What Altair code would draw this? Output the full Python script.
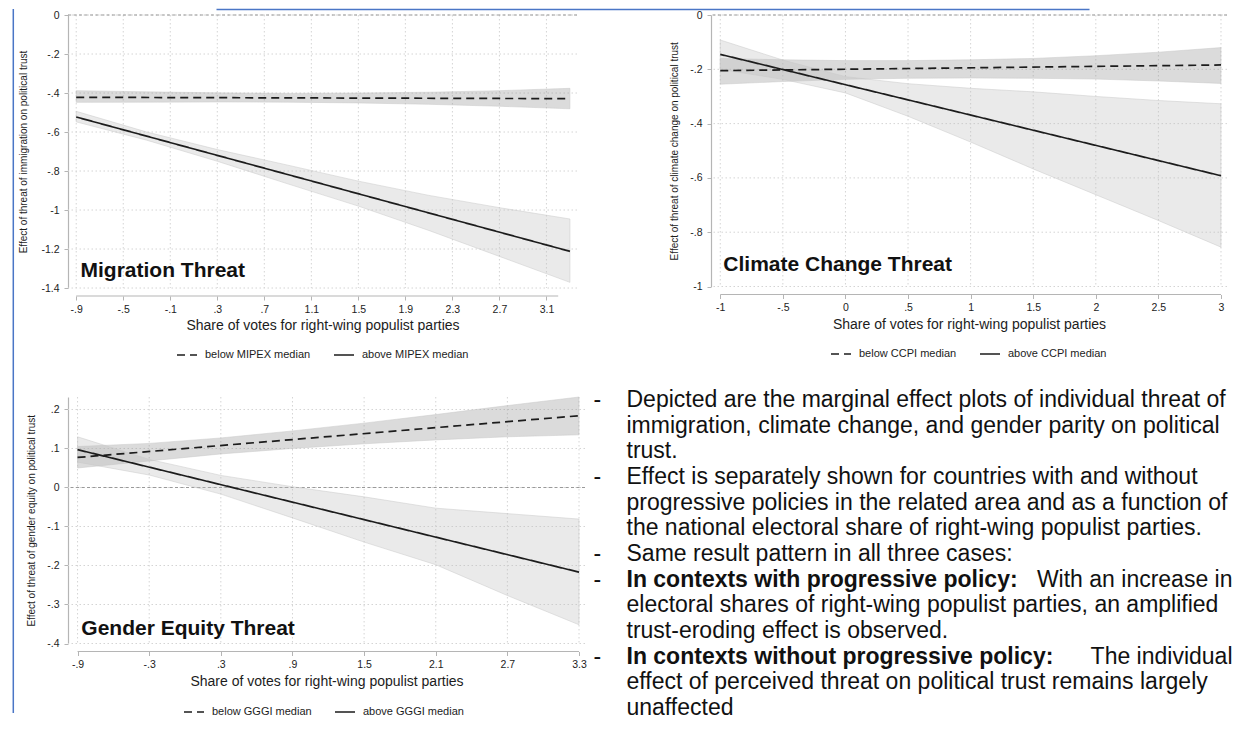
import altair as alt
import pandas as pd

FONT = "Liberation Sans"
INK = "#1c1c1c"
AXIS_GRAY = "#b5b5b5"
GRID_GRAY = "#d4d4d4"
REF_GRAY = "#9a9a9a"
BLUE = "#4a76c6"
X_TITLE = "Share of votes for right-wing populist parties"

# ---------------- Panel 1: Migration threat ----------------
p1_title = ["Migration Threat"]
p1_y_title = "Effect of threat of immigration on political trust"
p1_groups = ["below MIPEX median", "above MIPEX median"]
p1_x_ticks = [-0.9, -0.5, -0.1, 0.3, 0.7, 1.1, 1.5, 1.9, 2.3, 2.7, 3.1]
p1_y_ticks = [0, -0.2, -0.4, -0.6, -0.8, -1.0, -1.2, -1.4]
p1_x_domain = [-0.97, 3.36]
p1_y_domain = [-1.4, 0]
p1_axis_span = [-0.9, 3.2]
p1_ref = [0]
p1_line_x = [-0.9, 3.3]
p1_below_est = [-0.422, -0.429]
p1_above_est = [-0.523, -1.212]
p1_band_x = [-0.9, -0.3, 0.3, 0.9, 1.5, 2.1, 2.7, 3.3]
p1_below_hi = [-0.388, -0.394, -0.399, -0.402, -0.400, -0.396, -0.388, -0.376]
p1_below_lo = [-0.448, -0.447, -0.446, -0.447, -0.451, -0.458, -0.468, -0.481]
p1_above_hi = [-0.494, -0.600, -0.690, -0.770, -0.852, -0.925, -0.988, -1.046]
p1_above_lo = [-0.548, -0.642, -0.750, -0.866, -0.980, -1.105, -1.238, -1.371]

# ---------------- Panel 2: Climate change threat ----------------
p2_title = ["Climate Change Threat"]
p2_y_title = "Effect of threat of climate change on political trust"
p2_groups = ["below CCPI median", "above CCPI median"]
p2_x_ticks = [-1, -0.5, 0, 0.5, 1, 1.5, 2, 2.5, 3]
p2_y_ticks = [0, -0.2, -0.4, -0.6, -0.8, -1.0]
p2_x_domain = [-1.074, 3.048]
p2_y_domain = [-1, 0]
p2_axis_span = [-1, 3]
p2_ref = [0]
p2_line_x = [-1, 3]
p2_below_est = [-0.205, -0.184]
p2_above_est = [-0.145, -0.592]
p2_band_x = [-1, -0.5, 0, 0.5, 1, 1.5, 2, 2.5, 3]
p2_below_hi = [-0.160, -0.165, -0.168, -0.168, -0.165, -0.160, -0.150, -0.137, -0.120]
p2_below_lo = [-0.255, -0.245, -0.237, -0.233, -0.232, -0.233, -0.236, -0.243, -0.252]
p2_above_hi = [-0.092, -0.166, -0.227, -0.253, -0.270, -0.283, -0.300, -0.315, -0.327]
p2_above_lo = [-0.200, -0.237, -0.287, -0.373, -0.468, -0.567, -0.662, -0.757, -0.855]

# ---------------- Panel 3: Gender equity threat ----------------
p3_title = ["Gender Equity Threat"]
p3_y_title = "Effect of threat of gender equity on political trust"
p3_groups = ["below GGGI median", "above GGGI median"]
p3_x_ticks = [-0.9, -0.3, 0.3, 0.9, 1.5, 2.1, 2.7, 3.3]
p3_y_ticks = [0.2, 0.1, 0, -0.1, -0.2, -0.3, -0.4]
p3_x_domain = [-0.98, 3.35]
p3_y_domain = [-0.4, 0.232]
p3_axis_span = [-0.9, 3.3]
p3_ref = [0]
p3_line_x = [-0.9, 3.3]
p3_below_est = [0.077, 0.184]
p3_above_est = [0.097, -0.217]
p3_band_x = [-0.9, -0.3, 0.3, 0.9, 1.5, 2.1, 2.7, 3.3]
p3_below_hi = [0.105, 0.113, 0.127, 0.145, 0.165, 0.187, 0.210, 0.232]
p3_below_lo = [0.050, 0.068, 0.086, 0.100, 0.112, 0.122, 0.130, 0.135]
p3_above_hi = [0.130, 0.072, 0.031, 0.002, -0.024, -0.053, -0.067, -0.081]
p3_above_lo = [0.065, 0.032, -0.017, -0.078, -0.140, -0.198, -0.277, -0.352]

# ---------------- Text block ----------------
text_lines = [
    "Depicted are the marginal effect plots of individual threat of",
    "immigration, climate change, and gender parity on political",
    "trust.",
    "Effect is separately shown for countries with and without",
    "progressive policies in the related area and as a function of",
    "the national electoral share of right-wing populist parties.",
    "Same result pattern in all three cases:",
    "",
    "electoral shares of right-wing populist parties, an amplified",
    "trust-eroding effect is observed.",
    "",
    "effect of perceived threat on political trust remains largely",
    "unaffected",
]
text_bold = ["", "", "", "", "", "", "", "In contexts with progressive policy:",
             "", "", "In contexts without progressive policy:", "", ""]
text_tail = ["", "", "", "", "", "", "", "With an increase in",
             "", "", "The individual", "", ""]
text_bullets = ["-", "", "", "-", "", "", "-", "-", "", "", "-", "", ""]
frame_edge = ["left"]
box_edge = ["top box"]

LABEL_EXPR = ("(datum.value < 0 ? '-' : '') + "
              "(abs(datum.value) < 1 && datum.value != 0 ? "
              "substring(format(abs(datum.value), '.1~f'), 1) : "
              "format(abs(datum.value), '.1~f'))")


def panel(p):
    W, H = p["w"], p["h"]
    xs = alt.Scale(domain=p["x_domain"], nice=False, zero=False)
    ys = alt.Scale(domain=p["y_domain"], nice=False, zero=False)
    xax = alt.Axis(values=p["x_ticks"], labelExpr=LABEL_EXPR, title=X_TITLE, grid=False,
                   domain=False, offset=8, tickSize=4, tickColor=AXIS_GRAY, tickWidth=1,
                   labelFont=FONT, labelFontSize=10.5, labelColor=INK, labelPadding=4,
                   titleFont=FONT, titleFontSize=14, titleFontWeight="normal",
                   titleColor=INK, titlePadding=4)
    yax = alt.Axis(values=p["y_ticks"], labelExpr=LABEL_EXPR, title=p["y_title"], grid=False,
                   domain=True, domainColor=AXIS_GRAY, domainWidth=1.2, tickSize=4,
                   tickColor=AXIS_GRAY, tickWidth=1, labelFont=FONT, labelFontSize=10.5,
                   labelColor=INK, labelPadding=5, titleFont=FONT, titleFontSize=10,
                   titleFontWeight="normal", titleColor=INK, titleX=p["ytitle_x"],
                   titleY=H / 2, titleBaseline="middle", titleAlign="center")

    def X(f):
        return alt.X(f"{f}:Q", scale=xs, axis=xax)

    def Y(f):
        return alt.Y(f"{f}:Q", scale=ys, axis=yax)

    g_below, g_above = p["groups"]
    n = len(p["band_x"])
    band_df = pd.DataFrame({
        "x": list(p["band_x"]) * 2,
        "lo": list(p["below_lo"]) + list(p["above_lo"]),
        "hi": list(p["below_hi"]) + list(p["above_hi"]),
        "grp": [g_below] * n + [g_above] * n,
    })
    m = len(p["line_x"])
    line_df = pd.DataFrame({
        "x": list(p["line_x"]) * 2,
        "est": list(p["below_est"]) + list(p["above_est"]),
        "grp": [g_below] * m + [g_above] * m,
    })

    xgrid = alt.Chart(pd.DataFrame({"t": p["x_ticks"]})).mark_rule(
        color=GRID_GRAY, strokeDash=[1.5, 2.5], strokeWidth=1).encode(x=X("t"))
    ygrid = alt.Chart(pd.DataFrame({"t": p["y_ticks"]})).mark_rule(
        color=GRID_GRAY, strokeDash=[1.5, 2.5], strokeWidth=1).encode(y=Y("t"))
    ref = alt.Chart(pd.DataFrame({"r": p["ref"]})).mark_rule(
        color=REF_GRAY, strokeDash=[3, 2.5], strokeWidth=1.2).encode(y=Y("r"))
    bands = alt.Chart(band_df).mark_area(
        fillOpacity=0.32, stroke="#c8c8c8", strokeWidth=0.7, strokeOpacity=0.7
    ).encode(
        x=X("x"), y=Y("lo"), y2=alt.Y2("hi"),
        fill=alt.Fill("grp:N", scale=alt.Scale(domain=[g_above, g_below],
                                               range=["#bdbdbd", "#8e8e8e"]), legend=None),
        order=alt.Order("grp:N", sort="ascending"),
    )
    lines = alt.Chart(line_df).mark_line(color=INK, strokeWidth=1.7).encode(
        x=X("x"), y=Y("est"),
        strokeDash=alt.StrokeDash(
            "grp:N",
            scale=alt.Scale(domain=[g_below, g_above], range=[[8, 5], [1, 0]]),
            legend=alt.Legend(title=None, orient="none", legendX=p["leg_x"], legendY=p["leg_y"],
                              direction="horizontal", labelFont=FONT, labelFontSize=11,
                              labelColor=INK, symbolType="stroke", symbolSize=400,
                              symbolStrokeWidth=1.5, symbolStrokeColor=INK,
                              columnPadding=20, labelOffset=7)),
    )
    span = pd.DataFrame({"a": [p["axis_span"][0]], "b": [p["axis_span"][1]]})
    xline = alt.Chart(span).mark_rule(color=AXIS_GRAY, strokeWidth=1.2).encode(
        x=X("a"), x2=alt.X2("b"), y=alt.value(H + 8))
    title = alt.Chart(pd.DataFrame({"t": p["title"]})).mark_text(
        align="left", baseline="middle", font=FONT, fontSize=21, fontWeight="bold",
        color="#111111").encode(x=alt.value(p["title_x"]), y=alt.value(p["title_y"]),
                                text="t:N")
    layers = [xgrid, ygrid, ref, bands, lines, xline, title]
    if p.get("frame"):
        layers.append(
            alt.Chart(pd.DataFrame({"k": frame_edge})).mark_rule(
                color=BLUE, strokeWidth=1.5).encode(
                x=alt.value(-54.7), y=alt.value(-6), y2=alt.value(698)))
        layers.append(
            alt.Chart(pd.DataFrame({"k": box_edge})).mark_rule(
                color=BLUE, strokeWidth=1.5).encode(
                x=alt.value(148.5), x2=alt.value(1021.5), y=alt.value(-5.5)))
    return alt.layer(*layers).properties(width=W, height=H)


c1 = panel(dict(w=509, h=273, x_domain=p1_x_domain, y_domain=p1_y_domain,
                x_ticks=p1_x_ticks, y_ticks=p1_y_ticks, y_title=p1_y_title,
                groups=p1_groups, band_x=p1_band_x, below_lo=p1_below_lo,
                below_hi=p1_below_hi, above_lo=p1_above_lo, above_hi=p1_above_hi,
                line_x=p1_line_x, below_est=p1_below_est, above_est=p1_above_est,
                ref=p1_ref, axis_span=p1_axis_span, title=p1_title,
                title_x=12.5, title_y=256, ytitle_x=-44.7,
                leg_x=108, leg_y=329, frame=True))
c2 = panel(dict(w=516, h=271.5, x_domain=p2_x_domain, y_domain=p2_y_domain,
                x_ticks=p2_x_ticks, y_ticks=p2_y_ticks, y_title=p2_y_title,
                groups=p2_groups, band_x=p2_band_x, below_lo=p2_below_lo,
                below_hi=p2_below_hi, above_lo=p2_above_lo, above_hi=p2_above_hi,
                line_x=p2_line_x, below_est=p2_below_est, above_est=p2_above_est,
                ref=p2_ref, axis_span=p2_axis_span, title=p2_title,
                title_x=12.3, title_y=250, ytitle_x=-36.7,
                leg_x=119, leg_y=328))
c3 = panel(dict(w=517, h=246.5, x_domain=p3_x_domain, y_domain=p3_y_domain,
                x_ticks=p3_x_ticks, y_ticks=p3_y_ticks, y_title=p3_y_title,
                groups=p3_groups, band_x=p3_band_x, below_lo=p3_below_lo,
                below_hi=p3_below_hi, above_lo=p3_above_lo, above_hi=p3_above_hi,
                line_x=p3_line_x, below_est=p3_below_est, above_est=p3_above_est,
                ref=p3_ref, axis_span=p3_axis_span, title=p3_title,
                title_x=13.3, title_y=232, ytitle_x=-37,
                leg_x=115, leg_y=304))

txt_df = pd.DataFrame({"row": list(range(len(text_lines))), "line": text_lines,
                       "bold": text_bold, "tail": text_tail, "bullet": text_bullets})
ysc = alt.Scale(domain=[0, len(text_lines) - 1], reverse=True, nice=False, zero=False)
tbase = alt.Chart(txt_df).encode(y=alt.Y("row:Q", scale=ysc, axis=None))
TXT = dict(baseline="middle", font=FONT, fontSize=23, color="#111111", dy=3)
t_bul = tbase.transform_filter("datum.bullet != ''").mark_text(align="left", **TXT).encode(
    x=alt.value(-117.5), text="bullet:N")
t_norm = tbase.transform_filter("datum.line != ''").mark_text(align="left", **TXT).encode(
    x=alt.value(-84.5), text="line:N")
t_bold = tbase.transform_filter("datum.bold != ''").mark_text(
    align="left", fontWeight="bold", **TXT).encode(x=alt.value(-84.5), text="bold:N")
t_tail = tbase.transform_filter("datum.tail != ''").mark_text(align="right", **TXT).encode(
    x=alt.value(521.5), text="tail:N")
c4 = alt.layer(t_bul, t_norm, t_bold, t_tail).properties(width=516, height=308)

chart = alt.concat(
    c1, c2, c3, c4, columns=2, spacing={"row": 109, "column": 126},
    bounds="flush", align="each"
).resolve_scale(
    strokeDash="independent", fill="independent"
).configure(font=FONT).configure_view(stroke=None).properties(
    padding={"left": 4, "top": 0, "right": 0, "bottom": 0}, background="white")

chart.save("out.html", embed_options={"renderer": "svg", "actions": False})
